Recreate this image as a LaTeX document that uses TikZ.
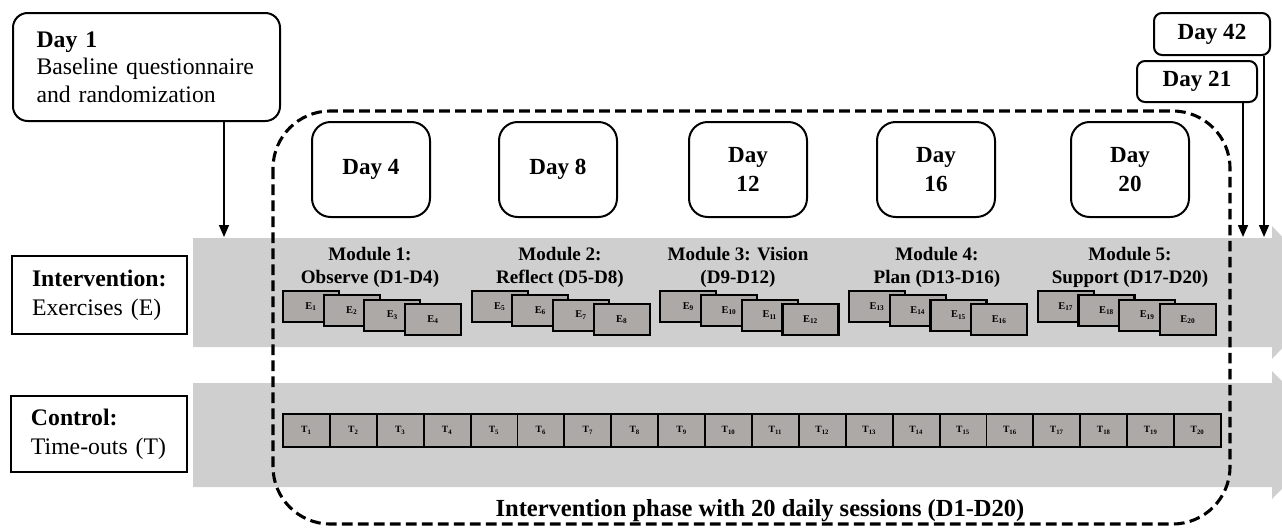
\documentclass[tikz,border=0pt]{standalone}
\usepackage{fontspec}
\setmainfont{Liberation Serif}
\usetikzlibrary{arrows.meta}
\definecolor{bandgray}{RGB}{208,207,208}
\definecolor{boxgray}{RGB}{172,169,167}
\begin{document}
\begin{tikzpicture}[x=0.75pt,y=-0.75pt,
  daybox/.style={draw, line width=1.5pt, rounded corners=14pt, fill=white,
    minimum width=88.5pt, minimum height=71.25pt, align=center,
    font=\fontsize{17.3}{21.5}\selectfont\bfseries},
  smallday/.style={draw, line width=1.5pt, rounded corners=6pt, fill=white,
    font=\fontsize{17.3}{20}\selectfont\bfseries},
  groupbox/.style={draw, line width=1.5pt, fill=white, align=left,
    font=\fontsize{17.8}{21.75}\selectfont},
  ebox/.style={draw, line width=1.6pt, fill=boxgray, minimum width=42pt,
    minimum height=23.25pt, inner sep=0pt, font=\fontsize{7.8}{8}\selectfont\bfseries},
  tbox/.style={draw, line width=1.4pt, fill=boxgray, minimum width=35.2pt,
    minimum height=24.75pt, inner sep=0pt, font=\fontsize{7.2}{8}\selectfont\bfseries},
  modtitle/.style={align=center, inner sep=0pt, font=\fontsize{14.3}{17.25}\selectfont\bfseries},
  arr/.style={line width=1.2pt, -{Triangle[length=9pt,width=7.5pt]}},
  phasebox/.style={draw, line width=2.3pt, dash pattern=on 8pt off 4pt, rounded corners=43pt}
]
\useasboundingbox (0,0) rectangle (1282,529);

% timeline bands with arrow heads running off the right edge
\begin{scope}
  \clip (0,0) rectangle (1282,529);
  \fill[bandgray] (193,238) -- (1272,238) -- (1272,226) -- (1335,292.5)
    -- (1272,359) -- (1272,347) -- (193,347) -- cycle;
  \fill[bandgray] (193,383) -- (1272,383) -- (1272,371) -- (1335,435)
    -- (1272,499) -- (1272,487) -- (193,487) -- cycle;
\end{scope}

% intervention phase frame
\draw[phasebox] (273,111) rectangle (1230,524);
\node[font=\fontsize{18.4}{20}\selectfont\bfseries, inner sep=0pt] (phase) at (760,511)
  {Intervention phase with 20 daily sessions (D1-D20)};

% start and follow-up days
\node[groupbox, rounded corners=11pt, minimum width=200.25pt, minimum height=81pt,
  text width=165pt, font=\fontsize{17.8}{20.6}\selectfont] (d1) at (146.5,67)
  {\textbf{Day 1}\\Baseline questionnaire\\and randomization};
\node[smallday, minimum width=87pt, minimum height=31.5pt] (d42) at (1212,34) {Day 42};
\node[smallday, minimum width=90pt, minimum height=30.75pt] (d21) at (1197,81.5) {Day 21};

\coordinate (a1) at (224,237);
\coordinate (a21) at (1243,237);
\coordinate (a42) at (1264,237);
\draw[arr] (d1.south -| a1) -- (a1);
\draw[arr] (d21.south -| a21) -- (a21);
\draw[arr] (d42.south -| a42) -- (a42);

% module days
\node[daybox] (d4) at (371,169.5) {Day 4};
\node[daybox] (d8) at (558,169.5) {Day 8};
\node[daybox] (d12) at (748,169.5) {Day\\12};
\node[daybox] (d16) at (936,169.5) {Day\\16};
\node[daybox] (d20) at (1130,169.5) {Day\\20};

% group labels
\node[groupbox, minimum width=131.25pt, minimum height=58.5pt, text width=101.25pt]
  (int) at (99.5,295) {\textbf{Intervention:}\\Exercises (E)};
\node[groupbox, minimum width=132pt, minimum height=57pt, text width=102pt]
  (ctl) at (99,434) {\textbf{Control:}\\Time-outs (T)};

% module titles
\node[modtitle] (m1) at (370,267) {Module 1:\\Observe (D1-D4)};
\node[modtitle] (m2) at (560,267) {Module 2:\\Reflect (D5-D8)};
\node[modtitle] (m3) at (738,267) {Module 3: Vision\\(D9-D12)};
\node[modtitle] (m4) at (937,267) {Module 4:\\Plan (D13-D16)};
\node[modtitle] (m5) at (1130,267) {Module 5:\\Support (D17-D20)};

% exercises, four stacked cards per module
\foreach \m in {0,...,4} {
  \foreach \j in {0,...,3} {
    \pgfmathtruncatemacro\n{4*\m+\j+1}
    \node[ebox] (e\n) at ({283+188.7*\m+40.7*\j+28},{291+4.3*\j+15.5}) {E\textsubscript{\n}};
  }
}

% time-outs, one per day
\foreach \k in {1,...,20} {
  \node[tbox] (t\k) at ({283+46.9*(\k-1)+23.45},430.5) {T\textsubscript{\k}};
}
\end{tikzpicture}
\end{document}
